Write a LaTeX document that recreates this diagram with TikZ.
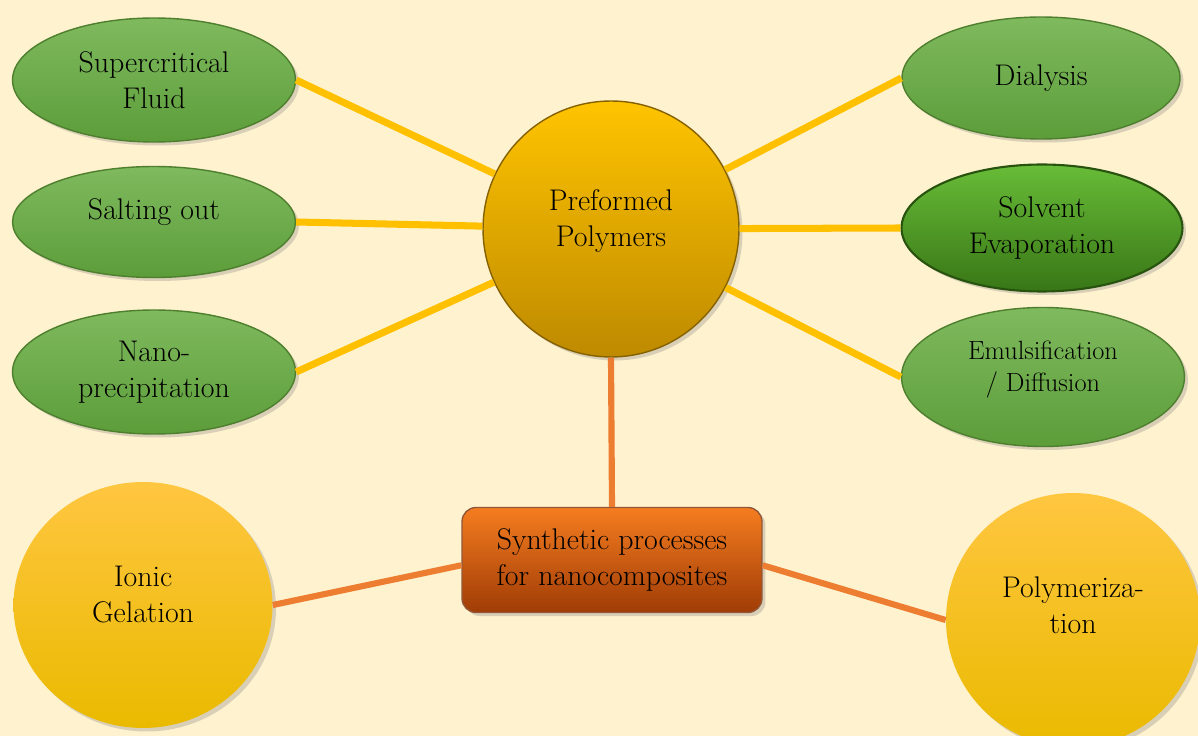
\documentclass[tikz,border=0pt]{standalone}
\definecolor{creambg}{RGB}{255, 242, 206}
\definecolor{leafgreen}{RGB}{127, 186, 94}
\definecolor{leafdark}{RGB}{92, 157, 58}
\definecolor{leafline}{RGB}{78, 127, 47}
\definecolor{deepgreen}{RGB}{104, 188, 56}
\definecolor{deepgreenb}{RGB}{56, 118, 22}
\definecolor{goldtop}{RGB}{255, 196, 0}
\definecolor{goldbot}{RGB}{190, 138, 0}
\definecolor{suntop}{RGB}{255, 198, 64}
\definecolor{sunbot}{RGB}{234, 186, 0}
\definecolor{boxtop}{RGB}{245, 125, 32}
\definecolor{boxbot}{RGB}{160, 60, 6}
\definecolor{yelline}{RGB}{255, 192, 0}
\definecolor{orline}{RGB}{237, 125, 49}
\usepackage{tikz}
\usetikzlibrary{shapes, positioning, calc, shadows}

\begin{document}
\begin{tikzpicture}[x=0.02cm, y=-0.02cm,
    every node/.style={font=\rmfamily\fontsize{17}{20.5}\selectfont, align=center, inner sep=0pt},
    method/.style={ellipse, draw=leafline, line width=0.8pt, top color=leafgreen, bottom color=leafdark,
      minimum width=5.66cm, minimum height=2.48cm,
      drop shadow={opacity=0.3, shadow xshift=2pt, shadow yshift=-2pt}},
    route/.style={circle, top color=suntop, bottom color=sunbot, minimum size=5.1cm,
      drop shadow={opacity=0.3, shadow xshift=2pt, shadow yshift=-2pt}},
    spoke/.style={draw=yelline, line width=4pt},
    trunk/.style={draw=orline, line width=3.5pt}]

  % background
  \fill[creambg] (0,0) rectangle (1198,736);
  \useasboundingbox (0,0) rectangle (1198,736);

  % hub
  \node[circle, draw=goldbot!70!black, line width=0.8pt, top color=goldtop, bottom color=goldbot,
    minimum size=5.12cm, drop shadow={opacity=0.3, shadow xshift=2pt, shadow yshift=-2pt}]
    (pp) at (611,229) {Preformed\\Polymers\\[-8pt]\mbox{}};

  % left methods
  \node[method] (super) at (154,80) {Supercritical\\Fluid};
  \node[method, minimum height=2.22cm] (salt) at (154,222) {Salting out\\[-6pt]\mbox{}};
  \node[method] (nano) at (154,372) {Nano-\\precipitation};

  % right methods
  \node[method, minimum width=5.56cm, minimum height=2.44cm] (dial) at (1041,78) {Dialysis};
  \node[method, draw=deepgreenb!70!black, line width=1.2pt, top color=deepgreen, bottom color=deepgreenb,
    minimum width=5.62cm, minimum height=2.54cm] (solv) at (1042,228) {Solvent\\Evaporation};
  \node[method, minimum height=2.78cm, font=\rmfamily\fontsize{15}{18.5}\selectfont] (emul) at (1043,377)
    {Emulsification\\/ Diffusion\\[-6pt]\mbox{}};

  % main box
  \node[rectangle, rounded corners=8pt, draw=boxbot!60!gray, line width=0.8pt,
    top color=boxtop, bottom color=boxbot, minimum width=6cm, minimum height=2.1cm,
    drop shadow={opacity=0.3, shadow xshift=2pt, shadow yshift=-2pt}]
    (synth) at (612,560) {Synthetic processes\\for nanocomposites};

  % other routes
  \node[route, ellipse, minimum width=5.18cm, minimum height=4.92cm] (ionic) at (143,605)
    {Ionic\\Gelation\\[-8pt]\mbox{}};
  \node[route, minimum size=5.08cm] (poly) at (1073,620) {Polymeriza-\\tion\\[-4pt]\mbox{}};

  % spokes
  \draw[spoke] (super.east) -- (pp);
  \draw[spoke] (salt.east) -- (pp);
  \draw[spoke] (nano.east) -- (pp);
  \draw[spoke] (dial.west) -- (pp);
  \draw[spoke] (solv.west) -- (pp);
  \draw[spoke] (emul.west) -- (pp);

  % trunk lines
  \draw[trunk] (pp.south) -- (synth.north);
  \draw[trunk] ([yshift=-3pt]synth.west) -- (ionic.east);
  \draw[trunk] ([yshift=-3pt]synth.east) -- (poly.west);
\end{tikzpicture}
\end{document}
